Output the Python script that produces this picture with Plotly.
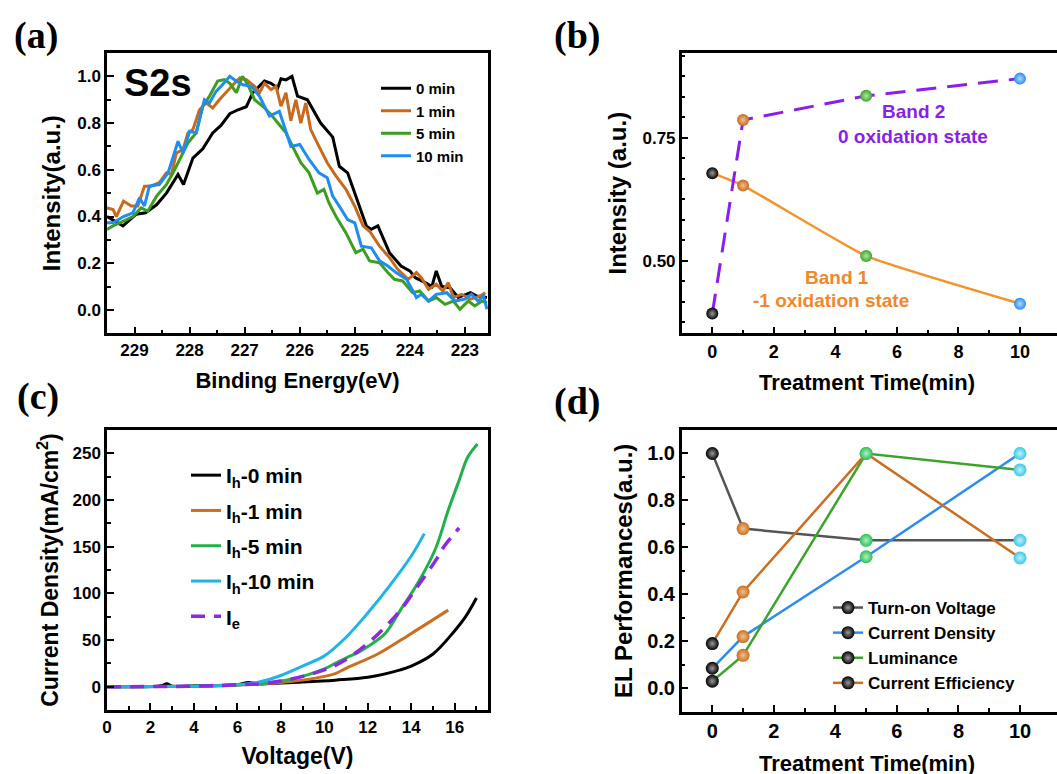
import plotly.graph_objects as go

W, H = 1070, 774   # figure is a little wider than the 1057 px window: right frame edge falls outside, as in the reference

# ---------------- (a) S2s XPS spectra ----------------
E_0min = [229.5, 229.21, 228.97, 228.8, 228.6, 228.42, 228.21, 228.11, 227.94, 227.76, 227.58, 227.43, 227.27,
          227.12, 226.97, 226.85, 226.64, 226.52, 226.4, 226.34, 226.25, 226.14, 226.04, 225.86, 225.62, 225.4,
          225.28, 225.13, 224.98, 224.79, 224.7, 224.58, 224.37, 224.16, 224.0, 223.9, 223.72, 223.6, 223.52,
          223.42, 223.27, 223.12, 222.9, 222.79, 222.6]
I_0min = [0.40, 0.36, 0.41, 0.416, 0.45, 0.50, 0.58, 0.537, 0.65, 0.69, 0.758, 0.79, 0.84,
          0.857, 0.87, 0.93, 0.98, 0.97, 0.95, 0.99, 0.985, 1.0, 0.915, 0.90, 0.80, 0.74,
          0.615, 0.587, 0.487, 0.36, 0.345, 0.36, 0.245, 0.188, 0.167, 0.138, 0.117, 0.10, 0.167,
          0.10, 0.095, 0.053, 0.074, 0.06, 0.053]

E_1min = [229.5, 229.39, 229.33, 229.2, 229.06, 228.94, 228.82, 228.7, 228.55, 228.42, 228.33, 228.24, 228.12,
          228.03, 227.94, 227.82, 227.7, 227.58, 227.46, 227.3, 227.21, 227.09, 226.97, 226.82, 226.73, 226.64,
          226.52, 226.43, 226.34, 226.25, 226.16, 226.07, 225.98, 225.89, 225.8, 225.65, 225.5, 225.34, 225.16,
          225.0, 224.85, 224.73, 224.55, 224.37, 224.22, 224.03, 223.88, 223.79, 223.66, 223.52, 223.4, 223.3,
          223.21, 223.06, 222.9, 222.72, 222.63]
I_1min = [0.437, 0.43, 0.40, 0.466, 0.445, 0.445, 0.53, 0.53, 0.545, 0.587, 0.58, 0.672, 0.686,
          0.758, 0.772, 0.857, 0.886, 0.865, 0.90, 0.943, 0.964, 0.993, 0.986, 0.957, 0.93, 0.97,
          0.943, 0.957, 0.872, 0.93, 0.81, 0.90, 0.80, 0.886, 0.772, 0.70, 0.63, 0.573, 0.516,
          0.444, 0.36, 0.337, 0.273, 0.224, 0.174, 0.131, 0.16, 0.138, 0.088, 0.11, 0.081, 0.117,
          0.053, 0.067, 0.046, 0.06, 0.074]

E_5min = [229.5, 229.39, 229.2, 229.03, 228.88, 228.76, 228.6, 228.42, 228.3, 228.15, 228.03, 227.88, 227.76,
          227.64, 227.49, 227.37, 227.27, 227.15, 227.04, 226.94, 226.82, 226.67, 226.52, 226.37, 226.25, 226.1,
          225.98, 225.83, 225.68, 225.56, 225.47, 225.34, 225.16, 224.98, 224.85, 224.73, 224.55, 224.4, 224.28,
          224.13, 223.95, 223.82, 223.66, 223.52, 223.36, 223.21, 223.09, 222.94, 222.82, 222.69, 222.6]
I_5min = [0.345, 0.36, 0.38, 0.40, 0.437, 0.423, 0.487, 0.537, 0.587, 0.658, 0.715, 0.758, 0.872,
          0.915, 0.98, 0.986, 0.97, 0.93, 1.0, 0.964, 0.90, 0.872, 0.836, 0.793, 0.758, 0.686,
          0.63, 0.587, 0.50, 0.516, 0.459, 0.40, 0.33, 0.245, 0.26, 0.21, 0.202, 0.16, 0.131,
          0.124, 0.074, 0.081, 0.038, 0.053, 0.024, 0.038, 0.003, 0.038, 0.017, 0.038, 0.031]

E_10min = [229.5, 229.39, 229.2, 229.03, 228.91, 228.82, 228.73, 228.55, 228.39, 228.21, 228.12, 228.0, 227.88,
           227.73, 227.64, 227.52, 227.43, 227.27, 227.15, 227.03, 226.88, 226.73, 226.55, 226.37, 226.16, 226.0,
           225.83, 225.65, 225.5, 225.4, 225.28, 225.13, 225.0, 224.88, 224.7, 224.55, 224.4, 224.25, 224.06,
           223.88, 223.79, 223.66, 223.52, 223.33, 223.18, 223.0, 222.88, 222.76, 222.66, 222.6]
I_10min = [0.373, 0.373, 0.40, 0.416, 0.48, 0.445, 0.53, 0.537, 0.587, 0.722, 0.672, 0.765, 0.758,
           0.90, 0.886, 0.936, 0.957, 1.0, 0.979, 0.964, 0.957, 0.915, 0.83, 0.85, 0.70, 0.708,
           0.644, 0.587, 0.566, 0.487, 0.444, 0.387, 0.373, 0.273, 0.266, 0.21, 0.188, 0.16, 0.131,
           0.053, 0.067, 0.038, 0.067, 0.074, 0.038, 0.046, 0.067, 0.038, 0.06, 0.003]

a_names = ["0 min", "1 min", "5 min", "10 min"]
a_colors = ["#000000", "#c8691e", "#3c9e1e", "#1e8cf0"]

# ---------------- (b) band intensities ----------------
t_b = [0, 1, 5, 10]
band1 = [0.678, 0.653, 0.51, 0.413]
band2 = [0.393, 0.786, 0.835, 0.87]
time_colors = ["#000000", "#c8691e", "#3aa52a", "#2a8cf0"]
time_hilite = ["#9a9a9a", "#f0c090", "#b0e8a0", "#b0d8ff"]

# ---------------- (c) J-V curves ----------------
V_h0 = [0, 2.5, 2.75, 3.0, 4, 6, 6.5, 7, 8, 9, 10.5, 12, 13.5, 14, 15, 16, 16.5, 17]
J_h0 = [0, 1, 3, 0.5, 1, 2, 4.5, 3, 4, 5, 7, 10, 18, 22, 35, 60, 75, 95]
V_h1 = [0, 4, 6, 7, 8, 9, 10, 10.5, 11, 12.5, 14, 15.7]
J_h1 = [0, 0.5, 1.5, 3, 4.5, 7, 11, 14, 19.7, 35.5, 57, 82]
V_h5 = [0, 5, 6, 7, 8, 9, 10, 10.5, 11.2, 11.5, 12, 12.8, 13.5, 14.3, 15.1, 15.7, 16.2, 16.6, 17.05]
J_h5 = [0, 1, 2, 3, 6, 11, 19, 25, 33, 36, 43, 57, 82, 111, 147, 189, 221, 246, 260]
V_h10 = [0, 5, 6, 7, 8, 9, 10, 11, 12, 13, 14, 14.6]
J_h10 = [0, 1, 2, 5, 12, 22, 33, 53, 79, 108, 140, 164]
V_e = [0, 4, 6, 7, 8, 9, 10, 10.7, 11.6, 12.5, 13.5, 14.4, 15.2, 15.5, 16.2]
J_e = [0, 0.5, 2, 3, 6, 11, 18, 25, 39, 57, 82, 111, 138, 150, 170]
c_names = ["I<sub>h</sub>-0 min", "I<sub>h</sub>-1 min", "I<sub>h</sub>-5 min", "I<sub>h</sub>-10 min", "I<sub>e</sub>"]
c_colors = ["#000000", "#cc6e1e", "#22b04b", "#1eb4e6", "#8c28e6"]

# ---------------- (d) EL performances ----------------
t_d = [0, 1, 5, 10]
turn_on = [1.0, 0.68, 0.63, 0.63]
cur_density = [0.085, 0.22, 0.56, 1.0]
luminance = [0.03, 0.14, 1.0, 0.93]
cur_eff = [0.19, 0.41, 1.0, 0.555]
d_names = ["Turn-on Voltage", "Current Density", "Luminance", "Current Efficiency"]
d_colors = ["#555555", "#2d8cf0", "#3aa52a", "#cc6e1e"]
d_marker_colors = ["#000000", "#cc6e1e", "#2dbf5a", "#3cc8e6"]
d_marker_hilite = ["#9a9a9a", "#f0c090", "#b0f0c0", "#c0f0ff"]

t_major = [0, 2, 4, 6, 8, 10]
t_minor = [-1, 1, 3, 5, 7, 9]

FONT = "Liberation Sans, Arial, sans-serif"

fig = go.Figure()

# (a)
for E, I, n, c in zip([E_0min, E_1min, E_5min, E_10min], [I_0min, I_1min, I_5min, I_10min], a_names, a_colors):
    fig.add_trace(go.Scatter(x=E, y=I, mode="lines", name=n, line=dict(color=c, width=3),
                             xaxis="x", yaxis="y", legend="legend", legendgroup="a" + n))

# (b)
fig.add_trace(go.Scatter(x=t_b, y=band1, mode="lines+markers", showlegend=False,
                         line=dict(color="#f5932b", width=2.5, shape="spline", smoothing=0.4),
                         marker=dict(size=12, color=time_colors, gradient=dict(type="radial", color=time_hilite)),
                         xaxis="x2", yaxis="y2"))
fig.add_trace(go.Scatter(x=t_b, y=band2, mode="lines+markers", showlegend=False,
                         line=dict(color="#8b1ee8", width=3, dash="20px,11px"),
                         marker=dict(size=12, color=time_colors, gradient=dict(type="radial", color=time_hilite)),
                         xaxis="x2", yaxis="y2"))

# (c)
for V, J, n, c in zip([V_h0, V_h1, V_h5, V_h10, V_e], [J_h0, J_h1, J_h5, J_h10, J_e], c_names, c_colors):
    dash = "14px,9px" if n == "I<sub>e</sub>" else "solid"
    fig.add_trace(go.Scatter(x=V, y=J, mode="lines", name=n,
                             line=dict(color=c, width=3.5 if dash != "solid" else 3, shape="spline", dash=dash),
                             xaxis="x3", yaxis="y3", legend="legend2", legendgroup="c" + n))

# (d)
for vals, n, c in zip([turn_on, cur_density, luminance, cur_eff], d_names, d_colors):
    fig.add_trace(go.Scatter(x=t_d, y=vals, mode="lines+markers", name=n,
                             line=dict(color=c, width=2.5),
                             marker=dict(size=13, color=d_marker_colors,
                                         gradient=dict(type="radial", color=d_marker_hilite)),
                             xaxis="x4", yaxis="y4", legend="legend3", legendgroup="d" + n))


def ax(domain, rng, dtick, minor, title, tsize, tickfont, standoff, anchor, mirror=True, minor_vals=None, **kw):
    mn = dict(ticks="inside", ticklen=4, tickwidth=2, tickcolor="black", showgrid=False)
    if minor_vals is not None:
        mn["tickvals"] = minor_vals
    else:
        mn["dtick"] = minor
    d = dict(domain=domain, range=rng, dtick=dtick, showline=True, linewidth=2.5, linecolor="black",
             mirror=mirror, ticks="inside", ticklen=7, tickwidth=2, tickcolor="black", minor=mn,
             showgrid=False, zeroline=False, anchor=anchor, automargin=False,
             tickfont=dict(family=FONT, size=tickfont, color="black", weight="bold"),
             title=dict(text=title, standoff=standoff,
                        font=dict(family=FONT, size=tsize, color="black", weight="bold")))
    d.update(kw)
    return d


# pixel scale of the right-hand panels: t=0 at 712.3 px, t=10 at 1020 px
B_LEFT, B_RIGHT = 681.7, W
ppu = (1020 - 712.3) / 10
X_RANGE_B = [(B_LEFT - 712.3) / ppu, (B_RIGHT - 712.3) / ppu]

xa = [107 / W, 488 / W]
xb = [B_LEFT / W, 1.0]
ytop = [1 - 333.3 / H, 1 - 53 / H]
ybot = [1 - 710 / H, 1 - 430 / H]
ydbot = [1 - 711.7 / H, 1 - 430 / H]

fig.update_layout(
    width=W, height=H, margin=dict(l=0, r=0, t=0, b=0, autoexpand=False),
    paper_bgcolor="white", plot_bgcolor="white",
    xaxis=ax(xa, [229.5, 222.58], 1, 0.5, "Binding Energy(eV)", 22, 17, 14, "y", tick0=229),
    yaxis=ax(ytop, [-0.1, 1.1], 0.2, 0.1, "Intensity(a.u.)", 24, 17, 10, "x", tickformat=".1f"),
    xaxis2=ax(xb, X_RANGE_B, 2, 1, "", 22, 18, 14, "y2", tickvals=t_major, minor_vals=t_minor),
    yaxis2=ax(ytop, [0.353, 0.922], 0.25, 0.25 / 6, "Intensity (a.u.)", 24, 17, 10, "x2",
              tickvals=[0.5, 0.75], ticktext=["0.50", "0.75"]),
    xaxis3=ax(xa, [0, 17.53], 2, 1, "Voltage(V)", 23, 17, 12, "y3", tick0=0),
    yaxis3=ax(ybot, [-25, 275], 50, 25, "Current Density(mA/cm<sup>2</sup>)", 23, 17, 8, "x3", tick0=0),
    xaxis4=ax(xb, X_RANGE_B, 2, 1, "", 22, 20, 14, "y4", tickvals=t_major, minor_vals=t_minor),
    yaxis4=ax(ydbot, [-0.1, 1.1], 0.2, 0.1, "EL Performances(a.u.)", 24, 20, 8, "x4",
              tickformat=".1f"),
    legend=dict(x=376 / W, y=1 - 72 / H, xanchor="left", yanchor="top", bgcolor="rgba(0,0,0,0)",
                font=dict(family=FONT, size=15, color="black", weight="bold"), tracegroupgap=0,
                itemclick=False),
    legend2=dict(x=186 / W, y=1 - 455 / H, xanchor="left", yanchor="top", bgcolor="rgba(0,0,0,0)",
                 font=dict(family=FONT, size=21, color="black", weight="bold"), tracegroupgap=5),
    legend3=dict(x=828 / W, y=1 - 590 / H, xanchor="left", yanchor="top", bgcolor="rgba(0,0,0,0)",
                 font=dict(family=FONT, size=17, color="black", weight="bold"), tracegroupgap=0),
)

annots = []
for txt, x, y in [("(a)", 36, 36), ("(b)", 577, 35), ("(c)", 38, 396), ("(d)", 577, 401)]:
    annots.append(dict(text=txt, x=x / W, y=1 - y / H, xref="paper", yref="paper", showarrow=False,
                       xanchor="center", yanchor="middle",
                       font=dict(family="Liberation Serif, Times New Roman, serif", size=38, color="black",
                                 weight="bold")))
annots.append(dict(text="S2s", x=122 / W, y=1 - 83 / H, xref="paper", yref="paper", showarrow=False,
                   xanchor="left", yanchor="middle",
                   font=dict(family=FONT, size=38, color="black", weight="bold")))
# x-axis titles of the right-hand panels (centred on the visible part of the frame)
for y in (382, 763):
    annots.append(dict(text="Treatment Time(min)", x=867 / W, y=1 - y / H, xref="paper", yref="paper",
                       showarrow=False, xanchor="center", yanchor="middle",
                       font=dict(family=FONT, size=22, color="black", weight="bold")))
for txt, x, y, col in [("Band 2", 913, 112, "#8b1ee8"), ("0 oxidation state", 913, 137, "#8b1ee8"),
                       ("Band 1", 837, 277, "#f0882a"), ("-1 oxidation state", 831, 301, "#f0882a")]:
    annots.append(dict(text=txt, x=x / W, y=1 - y / H, xref="paper", yref="paper", showarrow=False,
                       xanchor="center", yanchor="middle",
                       font=dict(family=FONT, size=19, color=col, weight="bold")))
fig.update_layout(annotations=annots)

fig.write_html("out.html", config={"displayModeBar": False},
               post_script=("document.body.style.margin='0px';document.body.style.overflow='hidden';"
                            "document.documentElement.style.overflow='hidden';"))
